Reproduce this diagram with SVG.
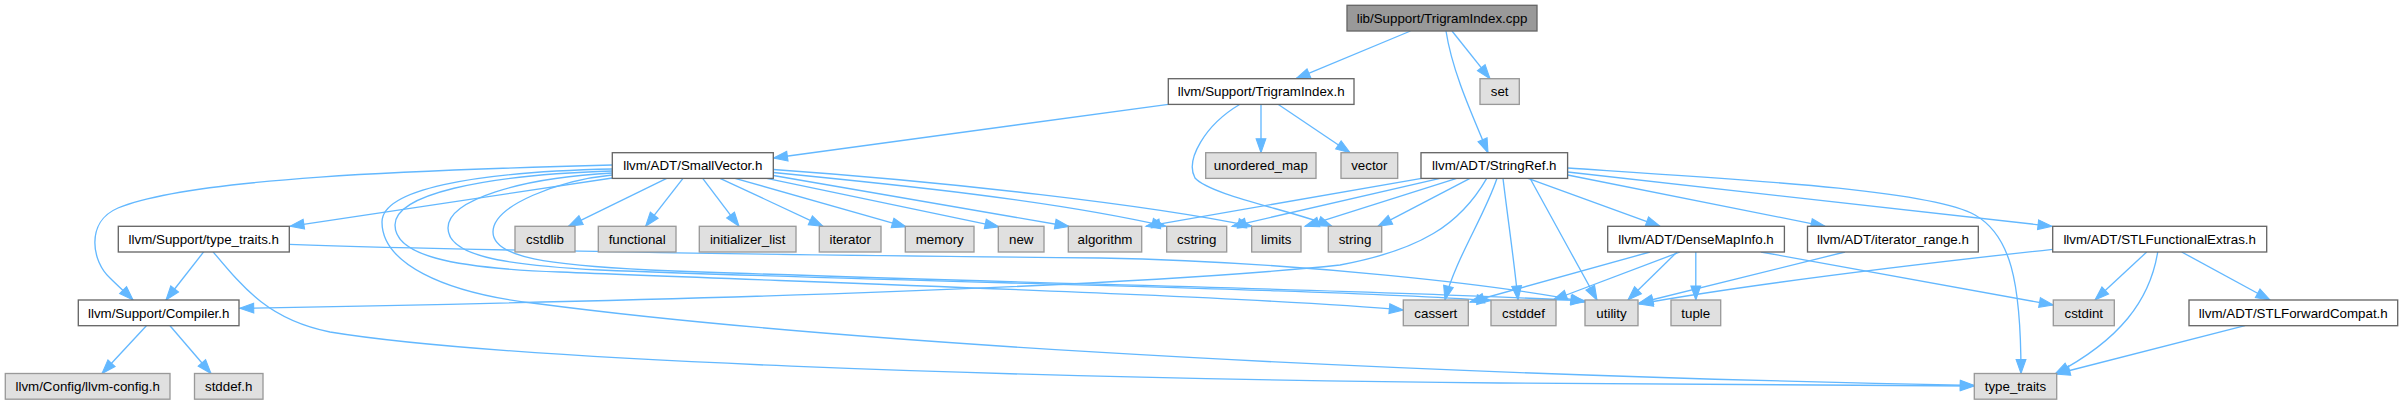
<svg xmlns="http://www.w3.org/2000/svg" width="2403" height="405" viewBox="0 0 2403 405">
<style>
text{font-family:"Liberation Sans",Arial,Helvetica,sans-serif;font-size:13.33px;text-anchor:middle;fill:#000}
.n rect{fill:#fff;stroke:#666;stroke-width:1.33}
.x rect{fill:#e0e0e0;stroke:#999;stroke-width:1.33}
.r rect{fill:#999;stroke:#666;stroke-width:1.33}
#edges path{fill:none;stroke:#63b8ff;stroke-width:1.33;marker-end:url(#a)}
</style>
<defs>
<marker id="a" markerUnits="userSpaceOnUse" markerWidth="14" markerHeight="10" refX="13.3" refY="4.67" orient="auto" viewBox="0 0 13.3 9.33" overflow="visible"><path d="M0,0 L13.3,4.67 L0,9.33 z" fill="#63b8ff" stroke="#63b8ff" stroke-width="1"/></marker>
</defs>
<rect width="2403" height="405" fill="#fff"/>
<g id="edges">
<path d="M1410.5,31 L1296,78.7"/>
<path d="M1452,31 L1490,78.7"/>
<path d="M1446,31 C1452,70 1470,110 1488,152.7"/>
<path d="M1168.3,104.3 L773.5,158"/>
<path d="M1261,104.3 L1261,152.7"/>
<path d="M1278,104.3 L1350,152.7"/>
<path d="M1240,104.3 C1205,125 1185,160 1195,178 C1210,195 1290,210 1332,226.3"/>
<path d="M666.7,178.3 L568.5,226.3"/>
<path d="M683,178.3 L645.6,226.3"/>
<path d="M702.7,178.3 L739,226.3"/>
<path d="M720,178.3 L823,226.3"/>
<path d="M735,178.3 L906,226.8"/>
<path d="M766.7,178.3 L999,226.8"/>
<path d="M773.3,175.5 L1069,226.5"/>
<path d="M773.3,172.5 C900,185 1050,200 1166,226.3"/>
<path d="M773.3,169.5 C950,182 1150,205 1252,226.3"/>
<path d="M612.3,165 C420,170 190,178 118,208 C85,222 92,262 110,278 C118,286 126,293 133,300"/>
<path d="M612.3,178 L290,226.3"/>
<path d="M612.3,171 C480,175 395,195 395,225 C395,255 450,268 560,272 C800,282 1250,296 1403.3,310"/>
<path d="M612.3,173 C520,178 448,200 448,228 C448,255 500,265 600,270 C900,282 1300,288 1491,300.5"/>
<path d="M612.3,175 C560,180 493,205 493,232 C493,258 550,265 650,270 C950,282 1400,290 1585,301"/>
<path d="M612.3,169 C470,172 382,190 382,222 C382,262 440,293 540,304 C800,338 1300,372 1974.3,385.5"/>
<path d="M203.8,251.7 L166,300"/>
<path d="M213,251.7 C245,290 270,320 330,332 C500,360 1000,378 1500,383 L1974.3,386"/>
<path d="M289.3,244.3 C500,252 900,256 1100,258 C1300,262 1500,285 1585,302"/>
<path d="M146.4,325.7 L102,373.5"/>
<path d="M170,325.7 L211,373.5"/>
<path d="M1486.7,178.3 C1460,225 1420,250 1340,265 C1100,290 600,302 239.7,308.3"/>
<path d="M1497,178.3 C1485,215 1455,260 1445,300"/>
<path d="M1503,178.3 C1508,220 1514,260 1518,300"/>
<path d="M1530,178.3 C1550,215 1575,260 1597,300"/>
<path d="M1421.7,178.3 L1146,226.3"/>
<path d="M1440,178.3 L1232,226.3"/>
<path d="M1456.7,178.3 L1305,226.3"/>
<path d="M1470,178.3 L1378,226.3"/>
<path d="M1528,178.3 L1660,226.3"/>
<path d="M1567.6,175 L1825,226.3"/>
<path d="M1567.6,172 L2052,226.3"/>
<path d="M1567.6,168 C1750,180 1930,190 1975,215 C2010,235 2021,280 2021,373.5"/>
<path d="M1650,252 L1470,302"/>
<path d="M1680,252 L1553,300"/>
<path d="M1677,252 L1628,300"/>
<path d="M1695.8,252 L1695.8,300"/>
<path d="M1761,252 L2053.3,305"/>
<path d="M1845,252 L1639,303"/>
<path d="M2052.7,249.3 C1900,266 1750,284 1639,304"/>
<path d="M2146.7,252 L2095,300"/>
<path d="M2157.7,252 C2150,300 2120,340 2055,374"/>
<path d="M2181.7,252 L2270,300"/>
<path d="M2245,325.7 L2056,374"/>
</g>
<g id="n_root" class="r"><rect x="1347" y="5.3" width="190" height="25.7"/><text x="1442" y="22.8">lib/Support/TrigramIndex.cpp</text></g>
<g id="n_trigramindex_h" class="n"><rect x="1168.3" y="78.7" width="185.7" height="25.7"/><text x="1261.2" y="96.2">llvm/Support/TrigramIndex.h</text></g>
<g id="n_set" class="x"><rect x="1480" y="78.7" width="39.3" height="25.7"/><text x="1499.7" y="96.2">set</text></g>
<g id="n_smallvector" class="n"><rect x="612.3" y="152.7" width="161" height="25.7"/><text x="692.8" y="170.2">llvm/ADT/SmallVector.h</text></g>
<g id="n_unordered_map" class="x"><rect x="1205.7" y="152.7" width="110.3" height="25.7"/><text x="1260.9" y="170.2">unordered_map</text></g>
<g id="n_vector" class="x"><rect x="1341" y="152.7" width="56.7" height="25.7"/><text x="1369.3" y="170.2">vector</text></g>
<g id="n_stringref" class="n"><rect x="1421" y="152.7" width="146.6" height="25.7"/><text x="1494.3" y="170.2">llvm/ADT/StringRef.h</text></g>
<g id="n_type_traits_h" class="n"><rect x="118.3" y="226.3" width="171" height="25.7"/><text x="203.8" y="243.8">llvm/Support/type_traits.h</text></g>
<g id="n_cstdlib" class="x"><rect x="515" y="226.3" width="60" height="25.7"/><text x="545" y="243.8">cstdlib</text></g>
<g id="n_functional" class="x"><rect x="598.3" y="226.3" width="77.7" height="25.7"/><text x="637.2" y="243.8">functional</text></g>
<g id="n_initializer_list" class="x"><rect x="699.3" y="226.3" width="96.7" height="25.7"/><text x="747.7" y="243.8">initializer_list</text></g>
<g id="n_iterator" class="x"><rect x="819.3" y="226.3" width="61.7" height="25.7"/><text x="850.2" y="243.8">iterator</text></g>
<g id="n_memory" class="x"><rect x="905.3" y="226.3" width="68.7" height="25.7"/><text x="939.7" y="243.8">memory</text></g>
<g id="n_new" class="x"><rect x="998.3" y="226.3" width="45.7" height="25.7"/><text x="1021.2" y="243.8">new</text></g>
<g id="n_algorithm" class="x"><rect x="1068.3" y="226.3" width="73.4" height="25.7"/><text x="1105" y="243.8">algorithm</text></g>
<g id="n_cstring" class="x"><rect x="1166.7" y="226.3" width="60" height="25.7"/><text x="1196.7" y="243.8">cstring</text></g>
<g id="n_limits" class="x"><rect x="1251.7" y="226.3" width="49.3" height="25.7"/><text x="1276.3" y="243.8">limits</text></g>
<g id="n_string" class="x"><rect x="1328.3" y="226.3" width="53.4" height="25.7"/><text x="1355" y="243.8">string</text></g>
<g id="n_densemapinfo" class="n"><rect x="1607.7" y="226.3" width="176.7" height="25.7"/><text x="1696" y="243.8">llvm/ADT/DenseMapInfo.h</text></g>
<g id="n_iterator_range" class="n"><rect x="1807.5" y="226.3" width="170.8" height="25.7"/><text x="1892.9" y="243.8">llvm/ADT/iterator_range.h</text></g>
<g id="n_stlfunctionalextras" class="n"><rect x="2052.7" y="226.3" width="214" height="25.7"/><text x="2159.7" y="243.8">llvm/ADT/STLFunctionalExtras.h</text></g>
<g id="n_compiler" class="n"><rect x="78.3" y="300" width="160.7" height="25.7"/><text x="158.7" y="317.5">llvm/Support/Compiler.h</text></g>
<g id="n_cassert" class="x"><rect x="1403.3" y="300" width="65" height="25.7"/><text x="1435.8" y="317.5">cassert</text></g>
<g id="n_cstddef" class="x"><rect x="1491" y="300" width="65" height="25.7"/><text x="1523.5" y="317.5">cstddef</text></g>
<g id="n_utility" class="x"><rect x="1585" y="300" width="53" height="25.7"/><text x="1611.5" y="317.5">utility</text></g>
<g id="n_tuple" class="x"><rect x="1671" y="300" width="49.7" height="25.7"/><text x="1695.8" y="317.5">tuple</text></g>
<g id="n_cstdint" class="x"><rect x="2053.3" y="300" width="61" height="25.7"/><text x="2083.8" y="317.5">cstdint</text></g>
<g id="n_stlforwardcompat" class="n"><rect x="2189" y="300" width="208.7" height="25.7"/><text x="2293.3" y="317.5">llvm/ADT/STLForwardCompat.h</text></g>
<g id="n_llvm_config" class="x"><rect x="5.3" y="373.5" width="164.7" height="25.7"/><text x="87.7" y="391">llvm/Config/llvm-config.h</text></g>
<g id="n_stddef" class="x"><rect x="194.5" y="373.5" width="68.5" height="25.7"/><text x="228.7" y="391">stddef.h</text></g>
<g id="n_type_traits" class="x"><rect x="1974.3" y="373.5" width="82.4" height="25.7"/><text x="2015.5" y="391">type_traits</text></g>
</svg>
